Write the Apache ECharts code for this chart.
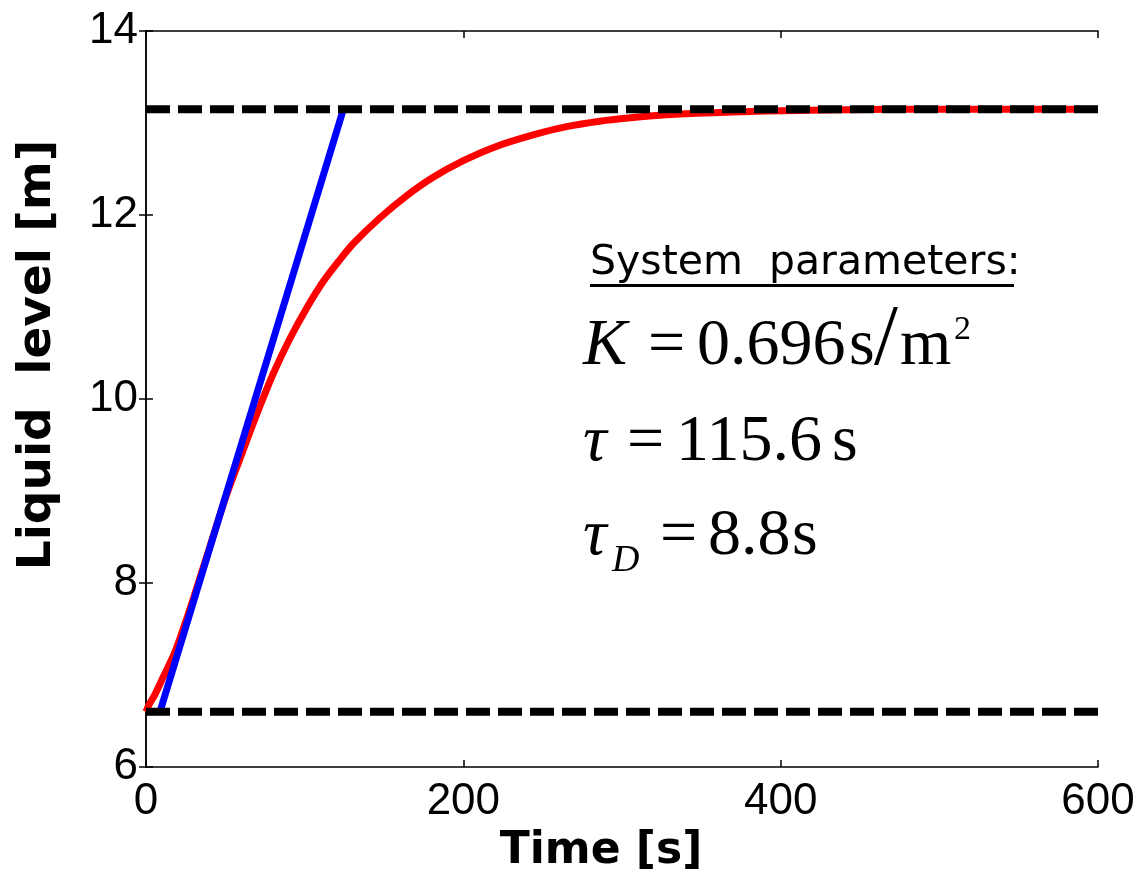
<!DOCTYPE html>
<html lang="en">
<head>
	<meta charset="UTF-8">
	<title>Liquid level step response</title>
	<script src="https://cdn.jsdelivr.net/npm/echarts@6/dist/echarts.min.js"></script>
	<style>
		html, body { margin: 0; padding: 0; background: #fff; }
		#chart { width: 1143px; height: 889px; }
	</style>
</head>
<body>
	<div id="chart"></div>
	<script>
		var timeS = [0, 2, 5.7, 10.9, 18, 25, 30, 40, 50, 59, 66.6, 72.9, 80.3, 90.8, 101.3, 111.8, 122, 130.7, 147.5, 164.3, 181, 200, 220, 244, 265, 286, 307, 328, 370, 412, 470, 600];
		var levelM = [6.6, 6.68, 6.79, 6.98, 7.24, 7.58, 7.84, 8.38, 8.92, 9.34, 9.69, 9.97, 10.28, 10.66, 10.99, 11.28, 11.51, 11.69, 11.97, 12.21, 12.41, 12.59, 12.74, 12.87, 12.96, 13.02, 13.06, 13.09, 13.12, 13.137, 13.15, 13.15];

		// tangent line and the two level limits
		var tangentT = [8.8, 124.4];
		var tangentY = [6.6, 13.15];
		var levelLow = 6.6;
		var levelHigh = 13.15;
		var timeRange = [0, 600];

		function pairs(xs, ys) {
			var out = [];
			for (var i = 0; i < xs.length; i++) out.push([xs[i], ys[i]]);
			return out;
		}

		var chart = echarts.init(document.getElementById('chart'));

		var serif = '"Liberation Serif", "Times New Roman", serif';
		function mathText(x, y, txt, size, italic) {
			return {
				type: 'text', left: x, top: y,
				style: {
					text: txt, fill: '#000',
					font: (italic ? 'italic ' : '') + size + 'px ' + serif,
					verticalAlign: 'middle'
				}
			};
		}

		var axisCommon = {
			type: 'value',
			axisLine: { show: true, lineStyle: { color: '#000', width: 1.5 } },
			axisTick: { show: true, inside: true, length: 7, lineStyle: { color: '#000', width: 1.5 } },
			splitLine: { show: false }
		};

		var option = {
			animation: false,
			backgroundColor: '#fff',
			grid: { left: 146, right: 45, top: 31, bottom: 122, containLabel: false },
			xAxis: [
				Object.assign({}, axisCommon, {
					min: 0, max: 600, interval: 200,
					axisLabel: { color: '#000', fontSize: 44, fontFamily: '"Liberation Sans", Arial', margin: 13 }
				}),
				Object.assign({}, axisCommon, {
					position: 'top', min: 0, max: 600, interval: 200,
					axisLabel: { show: false }
				})
			],
			yAxis: [
				Object.assign({}, axisCommon, {
					min: 6, max: 14, interval: 2,
					axisLabel: { color: '#000', fontSize: 44, fontFamily: '"Liberation Sans", Arial', margin: 8 }
				}),
				Object.assign({}, axisCommon, {
					position: 'right', min: 6, max: 14, interval: 2,
					axisLabel: { show: false }
				})
			],
			series: [
				{
					name: 'response', type: 'line', data: pairs(timeS, levelM),
					showSymbol: false, smooth: 0.3,
					lineStyle: { color: '#ff0000', width: 7 }
				},
				{
					name: 'tangent', type: 'line', data: pairs(tangentT, tangentY),
					showSymbol: false,
					lineStyle: { color: '#0000ff', width: 7 }
				},
				{
					name: 'low', type: 'line', data: [[timeRange[0], levelLow], [timeRange[1], levelLow]],
					showSymbol: false,
					lineStyle: { color: '#000', width: 8, type: [24, 8] }
				},
				{
					name: 'high', type: 'line', data: [[timeRange[0], levelHigh], [timeRange[1], levelHigh]],
					showSymbol: false,
					lineStyle: { color: '#000', width: 8, type: [24, 8] }
				}
			],
			graphic: [
				// axis titles
				{
					type: 'text', x: 38, y: 355, rotation: Math.PI / 2,
					style: {
						text: 'Liquid  level [m]', fill: '#000',
						font: 'bold 47px "DejaVu Sans", sans-serif',
						align: 'center', verticalAlign: 'middle'
					}
				},
				{
					type: 'text', x: 601, y: 852,
					style: {
						text: 'Time [s]', fill: '#000',
						font: 'bold 44px "DejaVu Sans", sans-serif',
						align: 'center', verticalAlign: 'middle'
					}
				},
				// parameter box
				{
					type: 'text', left: 590, top: 243,
					style: { text: 'System  parameters:', fill: '#000', font: '41px "DejaVu Sans", sans-serif' }
				},
				{
					type: 'rect', left: 590, top: 284,
					shape: { width: 424, height: 3 }, style: { fill: '#000' }
				},
				mathText(583, 314, 'K', 66, true),
				mathText(648, 314, '=', 66, false),
				mathText(697, 314, '0.696', 66, false),
				mathText(849, 314, 's', 66, false),
				mathText(874, 298, '/', 86, false),
				mathText(900, 314, 'm', 66, false),
				mathText(954, 313, '2', 34, false),

				mathText(583, 410, 'τ', 66, true),
				mathText(627, 410, '=', 66, false),
				mathText(676, 410, '115.6', 66, false),
				mathText(832, 410, 's', 66, false),

				mathText(583, 504, 'τ', 66, true),
				mathText(612, 542, 'D', 38, true),
				mathText(660, 504, '=', 66, false),
				mathText(708, 504, '8.8', 66, false),
				mathText(792, 504, 's', 66, false)
			]
		};

		chart.setOption(option);
	</script>
</body>
</html>
